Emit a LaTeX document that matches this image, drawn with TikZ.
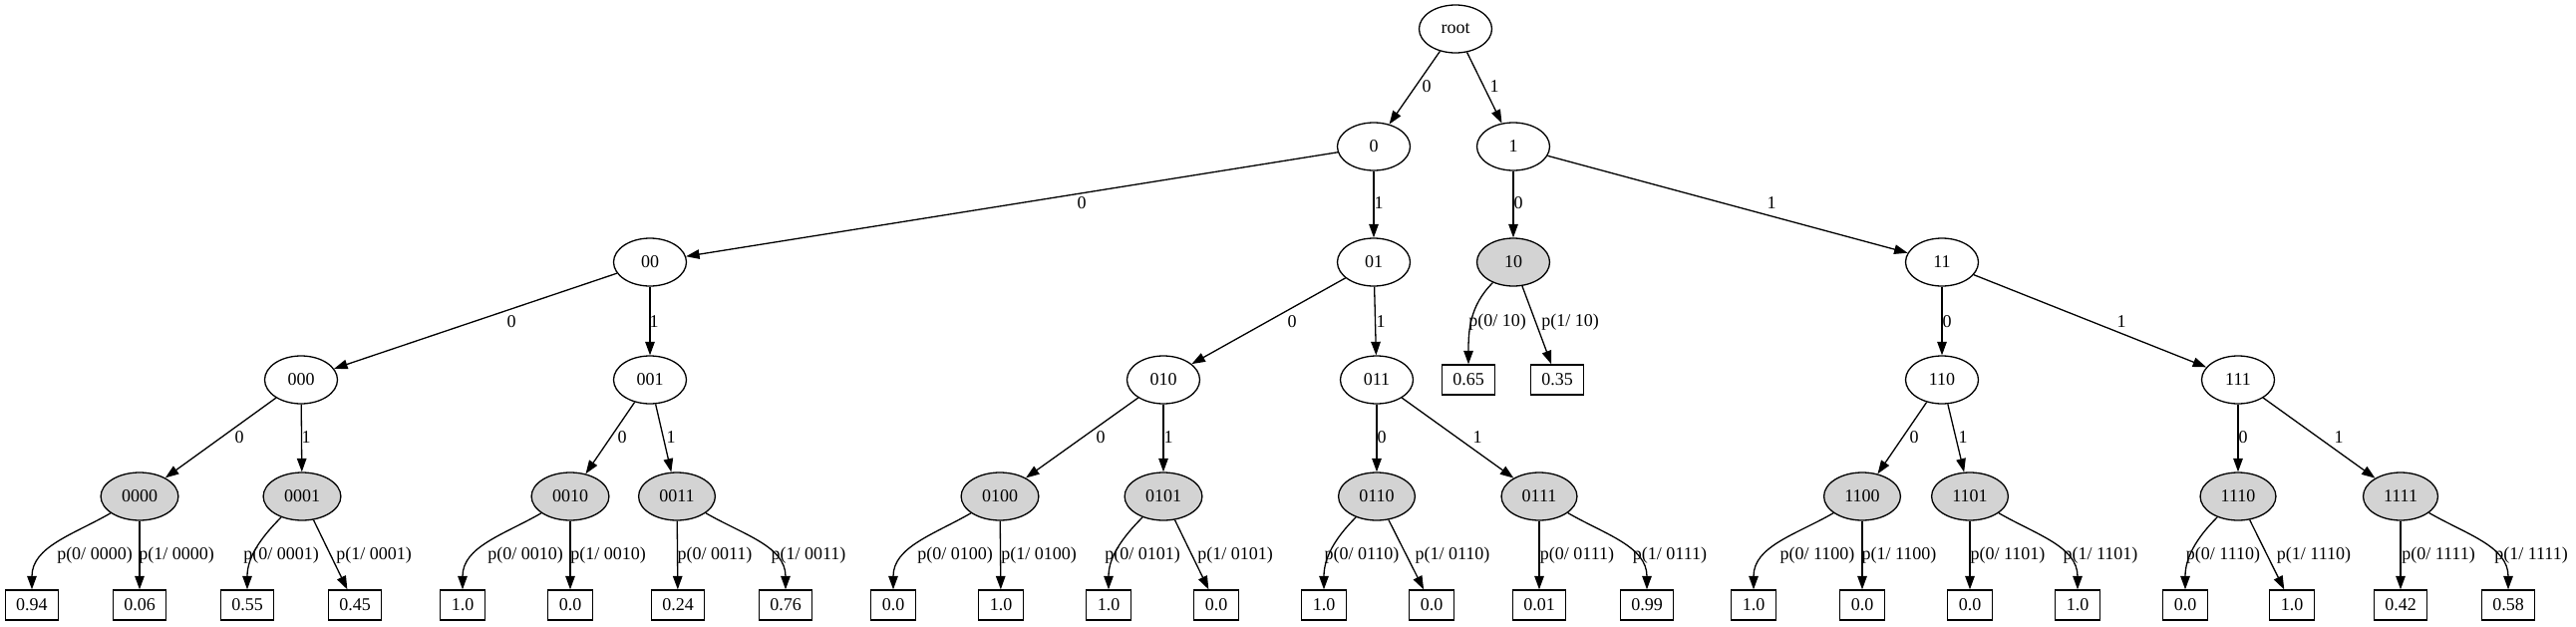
\documentclass[tikz,border=0pt]{standalone}
\usepackage{fontspec}
\setmainfont{Liberation Serif}
\usetikzlibrary{shapes.geometric,arrows.meta}
\definecolor{nodegray}{HTML}{D3D3D3}
\tikzset{
  inode/.style={ellipse, draw, line width=1.3pt, minimum width=73pt, minimum height=48pt, inner xsep=9.5pt, inner ysep=0pt},
  gnode/.style={inode, fill=nodegray},
  leaf/.style={rectangle, draw, line width=1.3pt, minimum height=30pt, inner xsep=11pt, inner ysep=0pt},
  edge/.style={-{Triangle[length=13.5pt,width=9.5pt]}, line width=1.3pt},
  lbl/.style={inner sep=0pt}
}
\begin{document}
\begin{tikzpicture}[x=1pt, y=-1pt, font=\fontsize{18}{22}\selectfont]
\useasboundingbox (0,0) rectangle (2584,629);
% internal nodes
\node[inode] (root) at (1460,29) {root};
\node[inode] (n0) at (1378,147) {0};
\node[inode] (n1) at (1518,147) {1};
\node[inode] (n00) at (652,263) {00};
\node[inode] (n01) at (1378,263) {01};
\node[gnode] (n10) at (1518,263) {10};
\node[inode] (n11) at (1948,263) {11};
\node[inode] (n000) at (302,381) {000};
\node[inode] (n001) at (652,381) {001};
\node[inode] (n010) at (1167,381) {010};
\node[inode] (n011) at (1381,381) {011};
\node[inode] (n110) at (1948,381) {110};
\node[inode] (n111) at (2245,381) {111};
\node[gnode] (n0000) at (140,498) {0000};
\node[gnode] (n0001) at (303,498) {0001};
\node[gnode] (n0010) at (572,498) {0010};
\node[gnode] (n0011) at (679,498) {0011};
\node[gnode] (n0100) at (1003,498) {0100};
\node[gnode] (n0101) at (1167,498) {0101};
\node[gnode] (n0110) at (1381,498) {0110};
\node[gnode] (n0111) at (1544,498) {0111};
\node[gnode] (n1100) at (1868,498) {1100};
\node[gnode] (n1101) at (1976,498) {1101};
\node[gnode] (n1110) at (2245,498) {1110};
\node[gnode] (n1111) at (2408,498) {1111};
% leaves
\node[leaf] (a10) at (1473,381) {0.65};
\node[leaf] (b10) at (1562,381) {0.35};
\node[leaf] (a0000) at (32,607) {0.94};
\node[leaf] (b0000) at (140,607) {0.06};
\node[leaf] (a0001) at (248,607) {0.55};
\node[leaf] (b0001) at (356,607) {0.45};
\node[leaf] (a0010) at (464,607) {1.0};
\node[leaf] (b0010) at (572,607) {0.0};
\node[leaf] (a0011) at (680,607) {0.24};
\node[leaf] (b0011) at (788,607) {0.76};
\node[leaf] (a0100) at (896,607) {0.0};
\node[leaf] (b0100) at (1004,607) {1.0};
\node[leaf] (a0101) at (1112,607) {1.0};
\node[leaf] (b0101) at (1220,607) {0.0};
\node[leaf] (a0110) at (1328,607) {1.0};
\node[leaf] (b0110) at (1436,607) {0.0};
\node[leaf] (a0111) at (1544,607) {0.01};
\node[leaf] (b0111) at (1652,607) {0.99};
\node[leaf] (a1100) at (1759,607) {1.0};
\node[leaf] (b1100) at (1868,607) {0.0};
\node[leaf] (a1101) at (1976,607) {0.0};
\node[leaf] (b1101) at (2084,607) {1.0};
\node[leaf] (a1110) at (2192,607) {0.0};
\node[leaf] (b1110) at (2299,607) {1.0};
\node[leaf] (a1111) at (2408,607) {0.42};
\node[leaf] (b1111) at (2516,607) {0.58};
% tree edges
\draw[edge] (root) -- (n0);   \node[lbl] (e1) at (1431,87) {0};
\draw[edge] (root) -- (n1);   \node[lbl] (e2) at (1499,87) {1};
\draw[edge] (n0) -- (n00);    \node[lbl] (e3) at (1085,204) {0};
\draw[edge] (n0) -- (n01);    \node[lbl] (e4) at (1383,204) {1};
\draw[edge] (n1) -- (n10);    \node[lbl] (e5) at (1523,204) {0};
\draw[edge] (n1) -- (n11);    \node[lbl] (e6) at (1777,204) {1};
\draw[edge] (n00) -- (n000);  \node[lbl] (e7) at (513,323) {0};
\draw[edge] (n00) -- (n001);  \node[lbl] (e8) at (656,323) {1};
\draw[edge] (n01) -- (n010);  \node[lbl] (e9) at (1296,323) {0};
\draw[edge] (n01) -- (n011);  \node[lbl] (e10) at (1385,323) {1};
\draw[edge] (n11) -- (n110);  \node[lbl] (e11) at (1953,323) {0};
\draw[edge] (n11) -- (n111);  \node[lbl] (e12) at (2128,323) {1};
\draw[edge] (n000) -- (n0000); \node[lbl] (e13) at (240,439) {0};
\draw[edge] (n000) -- (n0001); \node[lbl] (e14) at (307,439) {1};
\draw[edge] (n001) -- (n0010); \node[lbl] (e15) at (624,439) {0};
\draw[edge] (n001) -- (n0011); \node[lbl] (e16) at (673,439) {1};
\draw[edge] (n010) -- (n0100); \node[lbl] (e17) at (1104,439) {0};
\draw[edge] (n010) -- (n0101); \node[lbl] (e18) at (1172,439) {1};
\draw[edge] (n011) -- (n0110); \node[lbl] (e19) at (1386,439) {0};
\draw[edge] (n011) -- (n0111); \node[lbl] (e20) at (1482,439) {1};
\draw[edge] (n110) -- (n1100); \node[lbl] (e21) at (1920,439) {0};
\draw[edge] (n110) -- (n1101); \node[lbl] (e22) at (1969,439) {1};
\draw[edge] (n111) -- (n1110); \node[lbl] (e23) at (2250,439) {0};
\draw[edge] (n111) -- (n1111); \node[lbl] (e24) at (2346,439) {1};
% probability edges
\draw[edge] (n10) to[out=225,in=90] (a10);  \node[lbl] (p1) at (1502,323) {p(0/ 10)};
\draw[edge] (n10) -- (b10);                 \node[lbl] (p2) at (1575,323) {p(1/ 10)};
\draw[edge] (n0000) to[out=210,in=90] (a0000); \node[lbl] (q1) at (95,557) {p(0/ 0000)};
\draw[edge] (n0000) -- (b0000);                \node[lbl] (q2) at (177,557) {p(1/ 0000)};
\draw[edge] (n0001) to[out=225,in=90] (a0001); \node[lbl] (q3) at (282,557) {p(0/ 0001)};
\draw[edge] (n0001) -- (b0001);                \node[lbl] (q4) at (375,557) {p(1/ 0001)};
\draw[edge] (n0010) to[out=210,in=90] (a0010); \node[lbl] (q5) at (527,557) {p(0/ 0010)};
\draw[edge] (n0010) -- (b0010);                \node[lbl] (q6) at (610,557) {p(1/ 0010)};
\draw[edge] (n0011) -- (a0011);                \node[lbl] (q7) at (717,557) {p(0/ 0011)};
\draw[edge] (n0011) to[out=330,in=90] (b0011); \node[lbl] (q8) at (811,557) {p(1/ 0011)};
\draw[edge] (n0100) to[out=210,in=90] (a0100); \node[lbl] (q9) at (958,557) {p(0/ 0100)};
\draw[edge] (n0100) -- (b0100);                \node[lbl] (q10) at (1042,557) {p(1/ 0100)};
\draw[edge] (n0101) to[out=225,in=90] (a0101); \node[lbl] (q11) at (1146,557) {p(0/ 0101)};
\draw[edge] (n0101) -- (b0101);                \node[lbl] (q12) at (1239,557) {p(1/ 0101)};
\draw[edge] (n0110) to[out=225,in=90] (a0110); \node[lbl] (q13) at (1366,557) {p(0/ 0110)};
\draw[edge] (n0110) -- (b0110);                \node[lbl] (q14) at (1457,557) {p(1/ 0110)};
\draw[edge] (n0111) -- (a0111);                \node[lbl] (q15) at (1582,557) {p(0/ 0111)};
\draw[edge] (n0111) to[out=330,in=90] (b0111); \node[lbl] (q16) at (1675,557) {p(1/ 0111)};
\draw[edge] (n1100) to[out=210,in=90] (a1100); \node[lbl] (q17) at (1823,557) {p(0/ 1100)};
\draw[edge] (n1100) -- (b1100);                \node[lbl] (q18) at (1905,557) {p(1/ 1100)};
\draw[edge] (n1101) -- (a1101);                \node[lbl] (q19) at (2014,557) {p(0/ 1101)};
\draw[edge] (n1101) to[out=330,in=90] (b1101); \node[lbl] (q20) at (2107,557) {p(1/ 1101)};
\draw[edge] (n1110) to[out=225,in=90] (a1110); \node[lbl] (q21) at (2230,557) {p(0/ 1110)};
\draw[edge] (n1110) -- (b1110);                \node[lbl] (q22) at (2321,557) {p(1/ 1110)};
\draw[edge] (n1111) -- (a1111);                \node[lbl] (q23) at (2446,557) {p(0/ 1111)};
\draw[edge] (n1111) to[out=330,in=90] (b1111); \node[lbl] (q24) at (2539,557) {p(1/ 1111)};
\end{tikzpicture}
\end{document}
